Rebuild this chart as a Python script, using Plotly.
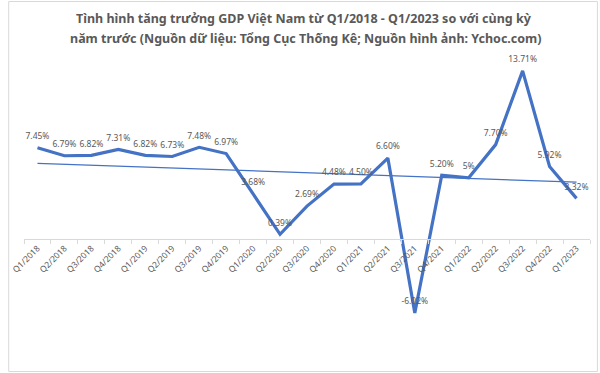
import numpy as np
import plotly.graph_objects as go

quarters = ["Q1/2018", "Q2/2018", "Q3/2018", "Q4/2018", "Q1/2019", "Q2/2019", "Q3/2019",
            "Q4/2019", "Q1/2020", "Q2/2020", "Q3/2020", "Q4/2020", "Q1/2021", "Q2/2021",
            "Q3/2021", "Q4/2021", "Q1/2022", "Q2/2022", "Q3/2022", "Q4/2022", "Q1/2023"]
gdp_growth = [7.45, 6.79, 6.82, 7.31, 6.82, 6.73, 7.48, 6.97, 3.68, 0.39, 2.69, 4.48,
              4.50, 6.60, -6.02, 5.20, 5.00, 7.70, 13.71, 5.92, 3.32]
labels = ["7.45%", "6.79%", "6.82%", "7.31%", "6.82%", "6.73%", "7.48%", "6.97%", "3.68%",
          "0.39%", "2.69%", "4.48%", "4.50%", "6.60%", "-6.02%", "5.20%", "5%", "7.70%",
          "13.71%", "5.92%", "3.32%"]

title_lines = ["Tình hình tăng trưởng GDP Việt Nam từ Q1/2018 - Q1/2023 so với cùng kỳ",
               "năm trước (Nguồn dữ liệu: Tổng Cục Thống Kê; Nguồn hình ảnh: Ychoc.com)"]

idx = np.arange(len(gdp_growth))
slope, intercept = np.polyfit(idx, gdp_growth, 1)
trend = slope * idx + intercept

BLUE = "#4472C4"
GRAY = "#595959"

ymin, ymax = -7, 15

fig = go.Figure()
fig.add_trace(go.Scatter(
    x=quarters, y=trend, mode="lines",
    line=dict(color=BLUE, width=1.3), hoverinfo="skip", showlegend=False))
fig.add_trace(go.Scatter(
    x=quarters, y=gdp_growth, mode="lines+markers+text",
    line=dict(color=BLUE, width=3.2),
    marker=dict(size=9, opacity=0, color=BLUE),
    text=labels, textposition="top center",
    textfont=dict(family="Noto Sans, sans-serif", size=8.5, color=GRAY),
    showlegend=False))

L, R, T, B = 17, 10, 55, 48
W, H = 600, 373
pw, ph = W - L - R, H - T - B


def py(pix):
    return (H - B - pix) / ph


annotations = [
    dict(text=title_lines[0], xref="paper", yref="paper", x=(300 - L) / pw, y=py(18.5),
         xanchor="center", yanchor="middle", showarrow=False,
         font=dict(family="Noto Sans, sans-serif", size=12.5, color=GRAY, weight="bold")),
    dict(text=title_lines[1], xref="paper", yref="paper", x=(302 - L) / pw, y=py(39),
         xanchor="center", yanchor="middle", showarrow=False,
         font=dict(family="Noto Sans, sans-serif", size=12.5, color=GRAY, weight="bold")),
]

fig.update_layout(
    width=W, height=H,
    margin=dict(l=L, r=R, t=T, b=B),
    paper_bgcolor="white", plot_bgcolor="white",
    annotations=annotations,
    xaxis=dict(
        type="category", tickson="boundaries", ticks="outside", ticklen=4,
        tickcolor="#d9d9d9", showline=True, linecolor="#d9d9d9", linewidth=1,
        showgrid=False, tickangle=-45,
        tickfont=dict(family="Noto Sans, sans-serif", size=8.5, color=GRAY),
        anchor="free", position=(0 - ymin) / (ymax - ymin),
        range=[-0.5, len(quarters) - 0.5]),
    yaxis=dict(range=[ymin, ymax], visible=False, showgrid=False, zeroline=False),
    shapes=[dict(type="rect", xref="paper", yref="paper",
                 x0=(1.5 - L) / pw, x1=(597.5 - L) / pw,
                 y0=py(371.5), y1=py(1.5),
                 line=dict(color="#d9d9d9", width=1), layer="below")],
)

fig.write_html("out.html")
